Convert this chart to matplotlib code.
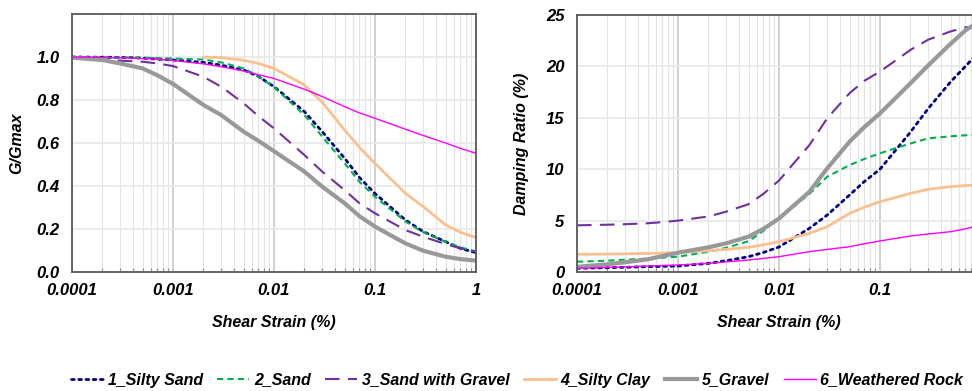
import numpy as np
import matplotlib
matplotlib.use("Agg")
import matplotlib.pyplot as plt
from matplotlib.ticker import FixedLocator, LogLocator, NullFormatter

plt.rcParams['font.family'] = ['Liberation Sans', 'DejaVu Sans']
plt.rcParams['font.weight'] = 'bold'
plt.rcParams['font.style'] = 'italic'
plt.rcParams['axes.labelweight'] = 'bold'

# shear strain (%) where the curves were read
strain = [0.0001, 0.0002, 0.0003, 0.0005, 0.0007, 0.001, 0.002, 0.003,
          0.005, 0.007, 0.01, 0.02, 0.03, 0.05, 0.07, 0.1, 0.2, 0.3,
          0.5, 0.7, 1.0]

names = ['1_Silty Sand', '2_Sand', '3_Sand with Gravel',
         '4_Silty Clay', '5_Gravel', '6_Weathered Rock']

# G/Gmax
g_silty_sand = [1.0, 0.999, 0.998, 0.995, 0.99, 0.986, 0.975, 0.962,
                0.94, 0.91, 0.862, 0.746, 0.653, 0.529, 0.44, 0.365,
                0.242, 0.188, 0.141, 0.11, 0.09]
g_sand = [1.0, 0.999, 0.998, 0.997, 0.995, 0.993, 0.988, 0.975,
          0.947, 0.91, 0.86, 0.73, 0.63, 0.506, 0.42, 0.35,
          0.235, 0.185, 0.14, 0.115, 0.095]
g_sand_gravel = [1.0, 0.988, 0.983, 0.978, 0.97, 0.958, 0.908, 0.862,
                 0.785, 0.725, 0.668, 0.544, 0.467, 0.381, 0.32, 0.273,
                 0.195, 0.164, 0.13, 0.11, 0.095]
g_silty_clay = [np.nan, np.nan, np.nan, np.nan, np.nan, np.nan, 1.0, 0.997,
                0.985, 0.97, 0.947, 0.87, 0.79, 0.66, 0.58, 0.505,
                0.366, 0.304, 0.219, 0.185, 0.16]
g_gravel = [0.997, 0.986, 0.97, 0.947, 0.915, 0.875, 0.777, 0.73,
            0.653, 0.61, 0.562, 0.467, 0.397, 0.32, 0.26, 0.211,
            0.133, 0.099, 0.071, 0.06, 0.053]
g_rock = [1.0, 0.998, 0.996, 0.993, 0.99, 0.984, 0.968, 0.955,
          0.935, 0.918, 0.90, 0.85, 0.816, 0.769, 0.74, 0.715,
          0.664, 0.635, 0.6, 0.575, 0.552]

# damping ratio (%)
d_silty_sand = [0.36, 0.42, 0.46, 0.52, 0.55, 0.58, 0.84, 1.1,
                1.49, 1.9, 2.43, 4.25, 5.54, 7.49, 8.8, 10.0,
                13.6, 15.9, 18.5, 20.0, 21.6]
d_sand = [1.0, 1.1, 1.2, 1.3, 1.4, 1.49, 1.97, 2.35,
          3.0, 4.0, 5.2, 7.6, 9.27, 10.4, 11.0, 11.55,
          12.5, 13.0, 13.2, 13.3, 13.4]
d_sand_gravel = [4.54, 4.6, 4.65, 4.74, 4.85, 5.0, 5.4, 5.87,
                 6.6, 7.6, 8.9, 12.35, 14.95, 17.4, 18.6, 19.5,
                 21.6, 22.6, 23.4, 23.8, 23.9]
d_silty_clay = [1.72, 1.74, 1.77, 1.8, 1.84, 1.88, 2.07, 2.2,
                2.4, 2.65, 2.95, 3.76, 4.41, 5.7, 6.3, 6.84,
                7.65, 8.04, 8.3, 8.4, 8.5]
d_gravel = [0.5, 0.75, 0.95, 1.23, 1.55, 1.88, 2.4, 2.79,
            3.44, 4.2, 5.2, 7.81, 10.08, 12.68, 14.1, 15.43,
            18.35, 20.1, 22.2, 23.5, 24.5]
d_rock = [0.36, 0.45, 0.5, 0.58, 0.63, 0.68, 0.84, 0.98,
          1.17, 1.32, 1.49, 1.98, 2.2, 2.46, 2.75, 3.02,
          3.5, 3.7, 3.92, 4.2, 4.6]

g_series = [g_silty_sand, g_sand, g_sand_gravel, g_silty_clay, g_gravel, g_rock]
d_series = [d_silty_sand, d_sand, d_sand_gravel, d_silty_clay, d_gravel, d_rock]

styles = [
    dict(color='#000080', lw=2.0, linestyle=(0, (1, 1.6)), dash_capstyle='round'),
    dict(color='#00b050', lw=1.5, linestyle=(0, (3, 2))),
    dict(color='#7030a0', lw=1.5, linestyle=(0, (7, 4))),
    dict(color='#fac090', lw=2.0, linestyle='-'),
    dict(color='#999999', lw=3.0, linestyle='-'),
    dict(color='#ff00ff', lw=1.0, linestyle='-'),
]

x_ticks = [0.0001, 0.001, 0.01, 0.1, 1]
x_ticklabels = ['0.0001', '0.001', '0.01', '0.1', '1']

fig = plt.figure(figsize=(9.72, 3.91), dpi=100)
W, H = 972.0, 391.0
ax1 = fig.add_axes([72 / W, 1 - 272 / H, 404 / W, 258 / H])
ax2 = fig.add_axes([577 / W, 1 - 272 / H, 404 / W, 257 / H])


def style_axes(ax, xlabels, yticks, ylabels, ylim, ylabel):
    ax.set_xscale('log')
    ax.set_xlim(0.0001, 1)
    ax.set_ylim(*ylim)
    ax.xaxis.set_major_locator(FixedLocator(x_ticks))
    ax.set_xticklabels(xlabels)
    ax.xaxis.set_minor_locator(LogLocator(base=10, subs=np.arange(2, 10)))
    ax.xaxis.set_minor_formatter(NullFormatter())
    ax.set_yticks(yticks)
    ax.set_yticklabels(ylabels)
    ax.grid(True, which='major', axis='x', color='#c4c4c4', lw=1.1)
    ax.grid(True, which='minor', axis='x', color='#e4e4e4', lw=0.8)
    ax.grid(True, which='major', axis='y', color='#e8e8e8', lw=1.2)
    ax.set_axisbelow(True)
    ax.tick_params(axis='both', which='major', length=0, labelsize=12, pad=9)
    ax.tick_params(axis='x', which='major', pad=8)
    ax.tick_params(axis='x', which='minor', direction='in', length=3,
                   color='#8c8c8c', width=0.8)
    for s in ax.spines.values():
        s.set_color('#595959')
        s.set_linewidth(1.3)
    ax.set_xlabel('Shear Strain (%)', fontsize=11.5)
    ax.set_ylabel(ylabel, fontsize=11.5)
    ax.xaxis.set_label_coords(0.5, -0.168)
    ax.yaxis.set_label_coords(-0.118, 0.5)


style_axes(ax1, x_ticklabels, [0, 0.2, 0.4, 0.6, 0.8, 1.0],
           ['0.0', '0.2', '0.4', '0.6', '0.8', '1.0'], (0, 1.2), 'G/Gmax')
# the right chart runs past the figure edge, so its "1" is not shown
style_axes(ax2, x_ticklabels[:-1] + [''], [0, 5, 10, 15, 20, 25],
           ['0', '5', '10', '15', '20', '25'], (0, 25), 'Damping Ratio (%)')

lines = []
for name, g, d, st in zip(names, g_series, d_series, styles):
    ln, = ax1.plot(strain, g, label=name, **st)
    ax2.plot(strain, d, **st)
    lines.append(ln)

fig.legend(lines, names, loc='center', bbox_to_anchor=(0.532, 0.028),
           ncol=6, frameon=False, fontsize=11.5, handlelength=2.0,
           handletextpad=0.3, columnspacing=0.9)

fig.savefig('out.png', dpi=100)
